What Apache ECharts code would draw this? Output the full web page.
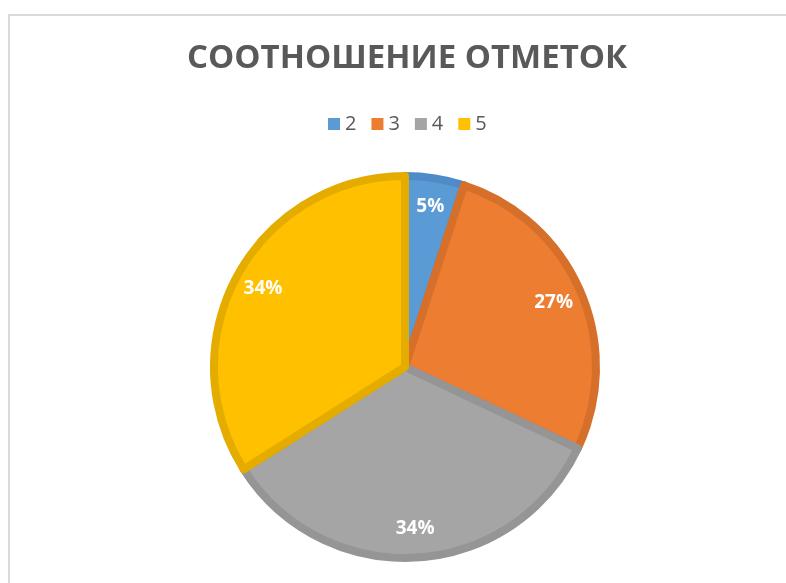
<!DOCTYPE html>
<html lang="ru">
<head>
    <meta charset="utf-8">
    <title>Соотношение отметок</title>
    <script src="https://cdn.jsdelivr.net/npm/echarts@6/dist/echarts.min.js"></script>
    <style type="text/css">
        html, body {
            margin: 0;
            padding: 0;
            background: #ffffff;
        }

        #main {
            width: 786px;
            height: 583px;
        }
    </style>
</head>
<body>
<div id="main"></div>
<script type="text/javascript">
    // данные диаграммы
    const marks = ['2', '3', '4', '5'];
    const shares = [5, 27, 34, 34];
    const fillColors = ['#5B9BD5', '#ED7D31', '#A5A5A5', '#FFC000'];
    const edgeColors = ['#4F8BC6', '#D56F2A', '#959595', '#E5AC00'];

    let chart = echarts.init(document.getElementById('main'));

    let pieData = marks.map(function (m, i) {
        return {
            name: m,
            value: shares[i],
            itemStyle: {color: fillColors[i], borderColor: edgeColors[i]}
        };
    });

    let option = {
        animation: false,
        title: {
            text: 'СООТНОШЕНИЕ ОТМЕТОК',
            left: 182,
            top: 37,
            textStyle: {
                fontFamily: 'Open Sans',
                fontWeight: 'bold',
                fontSize: 33,
                color: '#595959'
            }
        },
        legend: {
            data: marks,
            top: 109,
            left: 323,
            icon: 'rect',
            itemWidth: 12,
            itemHeight: 12,
            itemGap: 15,
            selectedMode: false,
            itemStyle: {borderWidth: 0},
            textStyle: {
                fontFamily: 'Open Sans',
                fontSize: 20,
                color: '#595959'
            }
        },
        graphic: [
            // рамка области диаграммы
            {type: 'line', shape: {x1: 8, y1: 15, x2: 786, y2: 15}, style: {stroke: '#d9d9d9', lineWidth: 2}},
            {type: 'line', shape: {x1: 9, y1: 14, x2: 9, y2: 583}, style: {stroke: '#d9d9d9', lineWidth: 2}}
        ],
        series: [
            {
                type: 'pie',
                center: [405, 367],
                radius: 191,
                startAngle: 90,
                silent: true,
                label: {show: false},
                labelLine: {show: false},
                itemStyle: {borderWidth: 8, borderJoin: 'round'},
                data: pieData
            },
            {
                // только подписи, ближе к краю круга
                type: 'pie',
                center: [405, 367],
                radius: [124, 194],
                startAngle: 90,
                silent: true,
                itemStyle: {color: 'transparent'},
                labelLine: {show: false},
                label: {
                    show: true,
                    position: 'inside',
                    formatter: '{d}%',
                    fontFamily: 'Open Sans',
                    fontWeight: 'bold',
                    fontSize: 19,
                    color: '#ffffff'
                },
                data: marks.map(function (m, i) {
                    return {name: m, value: shares[i]};
                })
            }
        ]
    };

    chart.setOption(option);
</script>
</body>
</html>
